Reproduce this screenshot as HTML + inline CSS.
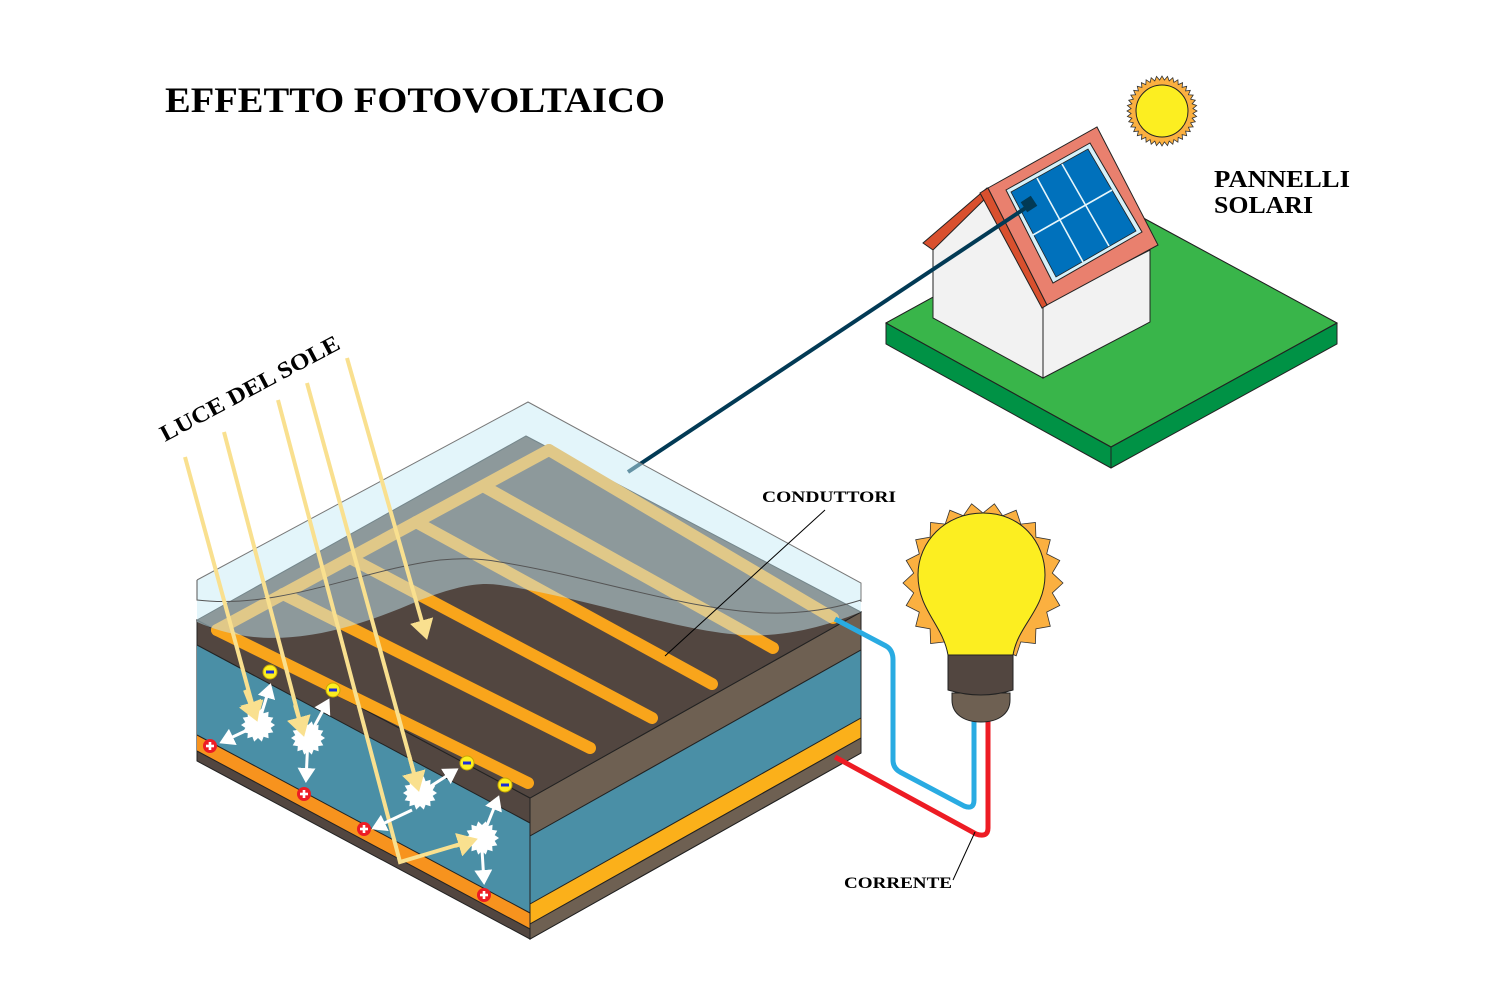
<!DOCTYPE html>
<html><head><meta charset="utf-8"><style>
html,body{margin:0;padding:0;background:#fff;}
svg{display:block;}
text{font-family:"Liberation Serif",serif;font-weight:bold;fill:#000;}
</style></head><body>
<svg id="s" width="1500" height="1000" viewBox="0 0 1500 1000" xmlns="http://www.w3.org/2000/svg">
<defs>
<marker id="ya" markerWidth="6" markerHeight="6" refX="4" refY="3" orient="auto" markerUnits="strokeWidth"><path d="M0,0 L5,3 L0,6 Z" fill="#f9e08f"/></marker>
<marker id="wa" markerWidth="6" markerHeight="6" refX="4" refY="3" orient="auto" markerUnits="strokeWidth"><path d="M0,0 L5,3 L0,6 Z" fill="#fff"/></marker>
</defs>

<text x="165" y="112" font-size="36" textLength="500" lengthAdjust="spacingAndGlyphs">EFFETTO FOTOVOLTAICO</text>
<text x="1214" y="187" font-size="24" textLength="136" lengthAdjust="spacingAndGlyphs">PANNELLI</text>
<text x="1214" y="213" font-size="24" textLength="99" lengthAdjust="spacingAndGlyphs">SOLARI</text>
<text x="0" y="0" font-size="23" transform="translate(165,442) rotate(-28)" textLength="200" lengthAdjust="spacingAndGlyphs">LUCE DEL SOLE</text>
<text x="762" y="502" font-size="16" textLength="134" lengthAdjust="spacingAndGlyphs">CONDUTTORI</text>
<text x="844" y="888" font-size="16" textLength="108" lengthAdjust="spacingAndGlyphs">CORRENTE</text>

<polygon points="886,323 1110,200 1337,323 1337,344 1111,468 886,344" fill="#009245" stroke="#222" stroke-width="1"/>
<polygon points="886,323 1110,200 1337,323 1111,447" fill="#39b54a" stroke="#222" stroke-width="1"/>
<polyline points="886,323 1111,447 1337,323" fill="none" stroke="#222" stroke-width="1"/>
<line x1="1111" y1="447" x2="1111" y2="468" stroke="#222"/>
<polygon points="1043,305 1150,250 1150,322 1043,378" fill="#f2f2f2" stroke="#222" stroke-width="1"/>
<polygon points="933,318 933,247 988,192 1043,305 1043,378" fill="#f2f2f2" stroke="#222" stroke-width="1"/>
<polygon points="923,243 987,188 992,192 933,250" fill="#d9502e" stroke="#222" stroke-width="1"/>
<polygon points="980,193 988,188 1047,305 1042,308" fill="#d9502e" stroke="#222" stroke-width="1"/>
<polygon points="988,188 1097,127 1158,245 1047,305" fill="#e9806e" stroke="#222" stroke-width="1"/>
<polygon points="1006,190 1090,143 1142,232 1053,283" fill="#d6f1fa" stroke="#222" stroke-width="1"/>
<polygon points="1011,192 1088,149 1136,231 1056,277" fill="#0071bc" stroke="#222" stroke-width="0.8"/>
<g stroke="#e6f6fb" stroke-width="1.6">
<line x1="1037" y1="178" x2="1083" y2="262"/>
<line x1="1062" y1="164" x2="1109" y2="246"/>
<line x1="1033" y1="235" x2="1112" y2="190"/>
</g>
<line x1="628" y1="472" x2="1030" y2="205" stroke="#023a55" stroke-width="4"/>
<rect x="1023" y="198" width="12" height="12" fill="#023a55" transform="rotate(-33 1029 204)"/>
<g id="sun"></g>

<polygon points="197,620 530,798 530,939 197,761" fill="#524640" stroke="#222" stroke-width="1"/>
<polygon points="197,645 530,823 530,913 197,735" fill="#4a8fa6"/>
<polygon points="197,735 530,913 530,929 197,751" fill="#f7931e"/>
<polyline points="197,645 530,823" stroke="#222" fill="none"/>
<polyline points="197,735 530,913" stroke="#222" fill="none"/>
<polyline points="197,751 530,929" stroke="#222" fill="none"/>
<polygon points="530,798 861,612 861,753 530,939" fill="#524640" stroke="#222" stroke-width="1"/>
<polygon points="530,798 861,612 861,650 530,836" fill="#6e6052" stroke="#222" stroke-width="1"/>
<polygon points="530,836 861,650 861,736 530,922" fill="#4a8fa6" stroke="#222" stroke-width="1"/>
<polygon points="530,904 861,718 861,738 530,924" fill="#fbb01a" stroke="#222" stroke-width="1"/>
<polygon points="530,924 861,738 861,753 530,939" fill="#6e6052" stroke="#222" stroke-width="1"/>
<polygon points="197,620 526,436 861,612 530,798" fill="#524640" stroke="#222" stroke-width="1"/>
<g stroke="#f9a51b" stroke-width="12" stroke-linecap="round" fill="none">
<line x1="217" y1="630" x2="549" y2="450"/>
<line x1="217" y1="630" x2="528" y2="783"/>
<line x1="283" y1="594" x2="590" y2="748"/>
<line x1="350" y1="558" x2="652" y2="718"/>
<line x1="416" y1="522" x2="712" y2="684"/>
<line x1="483" y1="486" x2="773" y2="648"/>
<line x1="549" y1="450" x2="833" y2="618"/>
</g>
<path d="M197,580 L528,402 L861,583 L861,612 C840,620 810,632 767,635 C700,640 600,600 500,585 C480,582 460,585 420,600 C330,640 260,650 197,622 Z" fill="rgba(200,235,246,0.5)"/>
<path d="M197,580 L528,402 L861,583 L861,602" fill="none" stroke="#777" stroke-width="1"/>
<path d="M197,580 L197,600 C280,610 360,570 440,560 C470,557 490,560 500,562 C600,578 700,615 783,613 C820,612 845,605 861,600" fill="none" stroke="#555" stroke-width="1"/>
<path d="M835,619 L886,646 Q893,650 893,660 L893,760 Q893,768 900,772 L964,806 Q974,810 974,800 L974,720" fill="none" stroke="#29abe2" stroke-width="5"/>
<path d="M835,757 L976,834 Q988,838 988,828 L988,720" fill="none" stroke="#ed1c24" stroke-width="5"/>
<g id="bulbburst"></g>
<path d="M983,513 C1021,513 1045,542 1045,575 C1045,610 1018,625 1013,655 L948,655 C943,625 918,610 918,575 C918,542 945,513 983,513 Z" fill="#fcee21" stroke="#222" stroke-width="1"/>
<path d="M952,693 L1010,693 L1010,700 C1010,714 998,722 981,722 C964,722 952,714 952,700 Z" fill="#6e6052" stroke="#222" stroke-width="1"/>
<path d="M948,655 L1013,655 L1013,690 Q981,700 948,690 Z" fill="#524640" stroke="#222" stroke-width="1"/>
<line x1="825" y1="510" x2="665" y2="656" stroke="#000" stroke-width="1"/>
<line x1="953" y1="880" x2="975" y2="832" stroke="#000" stroke-width="1"/>
<g stroke="#f9e08f" stroke-width="4" fill="none">
<line x1="185" y1="457" x2="256" y2="718" marker-end="url(#ya)"/>
<line x1="224" y1="432" x2="303" y2="733" marker-end="url(#ya)"/>
<line x1="307" y1="383" x2="418" y2="788" marker-end="url(#ya)"/>
<polyline points="278,400 400,862 474,840" marker-end="url(#ya)"/>
<line x1="347" y1="358" x2="426" y2="636" marker-end="url(#ya)"/>
</g>
<g id="parts"></g>
</svg>
<script>
var NS="http://www.w3.org/2000/svg";
function burst(cx,cy,r1,r2,n,fill,stroke,parent){
 var p=[];for(var i=0;i<2*n;i++){var a=Math.PI*i/n;var r=i%2?r1:r2;p.push((cx+r*Math.cos(a)).toFixed(1)+","+(cy+r*Math.sin(a)).toFixed(1));}
 var e=document.createElementNS(NS,"polygon");e.setAttribute("points",p.join(" "));e.setAttribute("fill",fill);
 if(stroke){e.setAttribute("stroke",stroke);e.setAttribute("stroke-width","0.8");}
 parent.appendChild(e);}
function el(t,a,parent){var e=document.createElementNS(NS,t);for(var k in a)e.setAttribute(k,a[k]);parent.appendChild(e);return e;}
var sun=document.getElementById("sun");
burst(1162,111,31,35,40,"#fbb040","#333",sun);
el("circle",{cx:1162,cy:111,r:26,fill:"#fcee21",stroke:"#222","stroke-width":1},sun);
var bb=document.getElementById("bulbburst");
burst(983,583,70,80,22,"#fbb040","#333",bb);
var P=document.getElementById("parts");
var arr=[[258,725,270,686],[258,725,222,742],[308,738,328,701],[308,738,306,780],[420,793,456,770],[412,810,374,828],[482,838,498,798],[482,850,484,882]];
arr.forEach(function(a){el("line",{x1:a[0],y1:a[1],x2:a[2],y2:a[3],stroke:"#fff","stroke-width":3,"marker-end":"url(#wa)"},P);});
[[258,725],[308,738],[420,793],[482,838]].forEach(function(s){burst(s[0],s[1],13,17,14,"#fff",null,P);});
[[[245,690],[256,718]],[[295,705],[303,733]],[[409,755],[418,788]],[[455,846],[474,840]]].forEach(function(r){el("line",{x1:r[0][0],y1:r[0][1],x2:r[1][0],y2:r[1][1],stroke:"#f9e08f","stroke-width":4,"marker-end":"url(#ya)"},P);});
[[270,672],[333,690],[467,763],[505,785]].forEach(function(c){el("circle",{cx:c[0],cy:c[1],r:7,fill:"#fcee21",stroke:"#c9a800","stroke-width":1},P);el("rect",{x:c[0]-4,y:c[1]-1.5,width:8,height:3,fill:"#1b2fd6"},P);});
[[210,746],[304,794],[364,829],[484,895]].forEach(function(c){el("circle",{cx:c[0],cy:c[1],r:7,fill:"#ed1c24"},P);el("rect",{x:c[0]-4,y:c[1]-1.3,width:8,height:2.6,fill:"#fff"},P);el("rect",{x:c[0]-1.3,y:c[1]-4,width:2.6,height:8,fill:"#fff"},P);});
</script>
</body></html>
